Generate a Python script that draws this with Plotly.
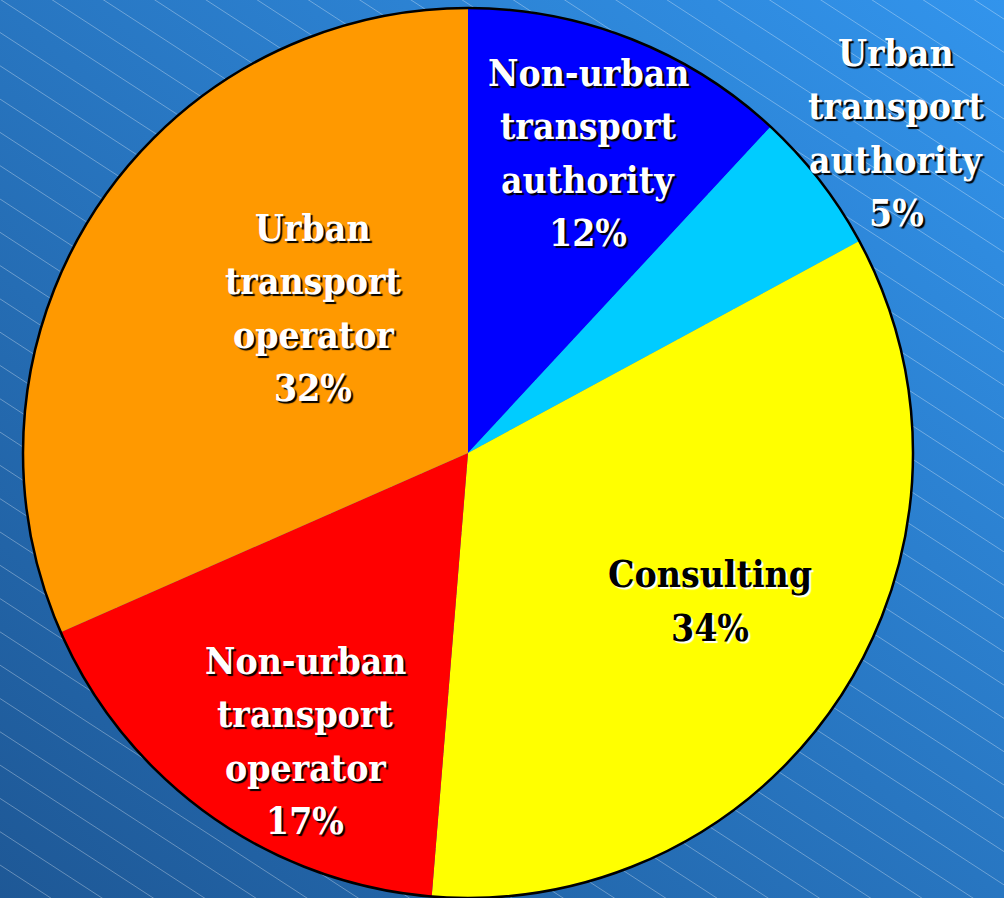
import base64
import plotly.graph_objects as go

# ---- data ----
labels = ["Non-urban transport authority", "Urban transport authority", "Consulting",
          "Non-urban transport operator", "Urban transport operator"]
values = [11.9, 5.2, 34.2, 17.1, 31.6]
label_lines = [["Non-urban", "transport", "authority"],
               ["Urban", "transport", "authority"],
               ["Consulting"],
               ["Non-urban", "transport", "operator"],
               ["Urban", "transport", "operator"]]
colors = ["#0000FF", "#00CCFF", "#FFFF00", "#FF0000", "#FF9900"]

# ---- layout / styling ----
W, H = 1004, 898
label_pos_px = [(588, 153), (896, 133), (710, 601), (305, 741), (313, 308)]
line_step = 53.3
text_colors = ["white", "white", "black", "white", "white"]
text_shadows = ["2px 2px 1px #000", "2px 2px 1px #000", "2px 2px 1px #fff",
                "2px 2px 1px #000", "2px 2px 1px #000"]
label_font = "DejaVu Serif Condensed, DejaVu Serif, serif"

# background: diagonal gradient with thin light diagonal lines
lines_svg = []
c = -800
while c < H + 50:
    lines_svg.append(f'<line x1="0" y1="{c:.1f}" x2="{W}" y2="{c + 0.65 * W:.1f}" '
                     f'stroke="rgba(255,255,255,0.32)" stroke-width="1"/>')
    c += 33.3
svg = (f'<svg xmlns="http://www.w3.org/2000/svg" width="{W}" height="{H}" viewBox="0 0 {W} {H}">'
       '<defs><linearGradient id="g" x1="0" y1="1" x2="1" y2="0">'
       '<stop offset="0" stop-color="#1E5896"/><stop offset="1" stop-color="#3294EC"/>'
       '</linearGradient></defs>'
       f'<rect width="{W}" height="{H}" fill="url(#g)"/>' + "".join(lines_svg) + '</svg>')
svg_uri = "data:image/svg+xml;base64," + base64.b64encode(svg.encode()).decode()

cx, cy, r = 468, 453, 445
dom = dict(x=[(cx - r) / W, (cx + r) / W], y=[1 - (cy + r) / H, 1 - (cy - r) / H])

fig = go.Figure()
# slices (no internal borders)
fig.add_trace(go.Pie(
    labels=labels, values=values, sort=False, direction="clockwise", rotation=0,
    marker=dict(colors=colors, line=dict(width=0)),
    textinfo="none", showlegend=False, hoverinfo="label+percent", domain=dom,
))
# outer black rim only
fig.add_trace(go.Pie(
    labels=["all"], values=[sum(values)], sort=False,
    marker=dict(colors=["rgba(0,0,0,0)"], line=dict(color="black", width=2.5)),
    textinfo="none", showlegend=False, hoverinfo="skip", domain=dom,
))

total = sum(values)
for lines, v, (px, py), tc, sh in zip(label_lines, values, label_pos_px, text_colors, text_shadows):
    pct = round(100 * v / total)
    all_lines = lines + [f"{pct}%"]
    n = len(all_lines)
    for i, t in enumerate(all_lines):
        ly = py + (i - (n - 1) / 2) * line_step
        fig.add_annotation(
            x=px / W, y=1 - ly / H, xref="paper", yref="paper", text=t, showarrow=False,
            xanchor="center", yanchor="middle", align="center",
            font=dict(family=label_font, size=37, color=tc, weight="bold", shadow=sh),
        )

fig.update_layout(
    width=W, height=H, margin=dict(l=0, r=0, t=0, b=0),
    paper_bgcolor="#2874C2", plot_bgcolor="rgba(0,0,0,0)",
    images=[dict(source=svg_uri, xref="paper", yref="paper", x=0, y=1, sizex=1, sizey=1,
                 xanchor="left", yanchor="top", sizing="stretch", layer="below")],
)

fig.write_html("out.html")
